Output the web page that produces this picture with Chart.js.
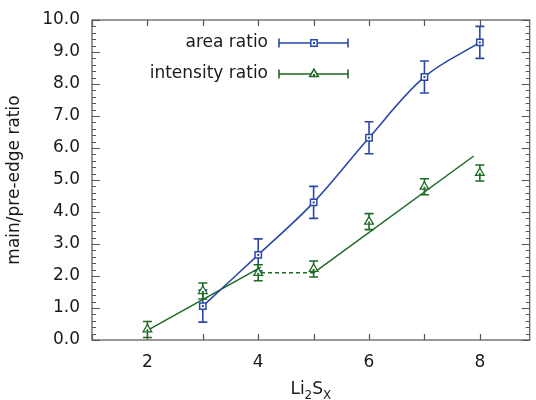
<!DOCTYPE html>
<html>
<head>
<meta charset="utf-8">
<script src="https://cdn.jsdelivr.net/npm/chart.js@4.4.0/dist/chart.umd.min.js"></script>
<style>
  html, body { margin: 0; padding: 0; background: #fff; }
  #wrap { width: 536px; height: 400px; }
</style>
</head>
<body>
<div id="wrap"><canvas id="chart"></canvas></div>
<script>
// values
const areaX = [3, 4, 5, 6, 7, 8];
const areaRatio = [1.06, 2.66, 4.3, 6.32, 8.22, 9.3];
const areaErr = [0.5, 0.5, 0.5, 0.5, 0.5, 0.5];

const intensityX = [2, 3, 4, 5, 6, 7, 8];
const intensityRatio = [0.33, 1.53, 2.1, 2.22, 3.7, 4.79, 5.22];
const intensityErr = [0.25, 0.25, 0.25, 0.25, 0.25, 0.25, 0.25];

// green guide lines (two linear fits and the dashed plateau)
const fitLowX = [2, 4.05];
const fitLowY = [0.3, 2.28];
const plateauX = [4.05, 5];
const plateauY = [2.1, 2.1];
const fitHighX = [5, 7.89];
const fitHighY = [2.1, 5.75];

const xTickLabels = [2, 4, 6, 8];
const xTickMarks = [1, 2, 3, 4, 5, 6, 7, 8];
const yTickLabels = [0, 1, 2, 3, 4, 5, 6, 7, 8, 9, 10];

const BLUE = '#2a48a8';
const GREEN = '#1d6a26';
const AXIS = '#555';
const TEXT = '#1a1a1a';
const FONT = "'DejaVu Sans', sans-serif";

const pts = (xs, ys) => xs.map((x, i) => ({ x: x, y: ys[i] }));

// error bars, drawn under the markers
const errorBars = {
  id: 'errorBars',
  beforeDatasetsDraw(chart) {
    const { ctx, scales: { x, y } } = chart;
    const sets = [
      [areaX, areaRatio, areaErr, BLUE],
      [intensityX, intensityRatio, intensityErr, GREEN]
    ];
    ctx.save();
    ctx.lineWidth = 1.6;
    sets.forEach(([xs, ys, es, col]) => {
      ctx.strokeStyle = col;
      xs.forEach((xv, i) => {
        const px = x.getPixelForValue(xv);
        const top = y.getPixelForValue(ys[i] + es[i]);
        const bot = y.getPixelForValue(ys[i] - es[i]);
        ctx.beginPath();
        ctx.moveTo(px, top); ctx.lineTo(px, bot);
        ctx.moveTo(px - 4.5, top); ctx.lineTo(px + 4.5, top);
        ctx.moveTo(px - 4.5, bot); ctx.lineTo(px + 4.5, bot);
        ctx.stroke();
      });
    });
    ctx.restore();
  }
};

// frame, inward ticks, centre dots, legend and axis titles
const decorations = {
  id: 'decorations',
  afterDraw(chart) {
    const { ctx, chartArea: a, scales: { x, y } } = chart;
    ctx.save();

    // centre dots on markers
    [[areaX, areaRatio, BLUE], [intensityX, intensityRatio, GREEN]].forEach(([xs, ys, col]) => {
      ctx.fillStyle = col;
      xs.forEach((xv, i) => {
        const px = x.getPixelForValue(xv);
        const py = y.getPixelForValue(ys[i]) + (col === GREEN ? 1 : 0);
        ctx.fillRect(px - 1, py - 1, 2, 2);
      });
    });

    ctx.strokeStyle = AXIS;
    ctx.lineWidth = 1.2;
    ctx.strokeRect(a.left, a.top, a.right - a.left, a.bottom - a.top);

    ctx.beginPath();
    for (let k = 0; k <= 50; k++) {
      const v = k * 0.2;
      const py = Math.round(y.getPixelForValue(v)) + 0.5;
      const len = k % 5 === 0 ? 8 : 4;
      ctx.moveTo(a.left, py); ctx.lineTo(a.left + len, py);
      ctx.moveTo(a.right, py); ctx.lineTo(a.right - len, py);
    }
    xTickMarks.forEach(v => {
      const px = Math.round(x.getPixelForValue(v)) + 0.5;
      ctx.moveTo(px, a.bottom); ctx.lineTo(px, a.bottom - 6);
      ctx.moveTo(px, a.top); ctx.lineTo(px, a.top + 6);
    });
    ctx.stroke();

    // legend
    ctx.font = '17px ' + FONT;
    ctx.fillStyle = TEXT;
    ctx.textAlign = 'right';
    ctx.textBaseline = 'middle';
    const legend = [['area ratio', BLUE, 'rect', 43], ['intensity ratio', GREEN, 'triangle', 74]];
    legend.forEach(([label, col, style, ly]) => {
      ctx.fillStyle = TEXT;
      ctx.fillText(label, 268, ly);
      ctx.strokeStyle = col;
      ctx.lineWidth = 1.6;
      ctx.beginPath();
      ctx.moveTo(279, ly); ctx.lineTo(348, ly);
      ctx.moveTo(279, ly - 4.5); ctx.lineTo(279, ly + 4.5);
      ctx.moveTo(348, ly - 4.5); ctx.lineTo(348, ly + 4.5);
      ctx.stroke();
      ctx.fillStyle = '#fff';
      ctx.lineWidth = 1.5;
      Chart.helpers.drawPoint(ctx, { pointStyle: style, radius: style === 'rect' ? 4.5 : 5, borderWidth: 1.5 }, 314, ly);
      ctx.fillStyle = col;
      ctx.fillRect(313, ly - (style === 'triangle' ? 0 : 1), 2, 2);
    });

    // axis titles
    ctx.fillStyle = TEXT;
    ctx.textAlign = 'left';
    ctx.textBaseline = 'alphabetic';
    const cx = (a.left + a.right) / 2;
    const parts = [['Li', 17, 0], ['2', 12, 5], ['S', 17, 0], ['X', 12, 5]];
    let w = 0;
    parts.forEach(([t, s]) => { ctx.font = s + 'px ' + FONT; w += ctx.measureText(t).width; });
    let tx = cx - w / 2;
    parts.forEach(([t, s, dy]) => {
      ctx.font = s + 'px ' + FONT;
      ctx.fillText(t, tx, 394 + dy);
      tx += ctx.measureText(t).width;
    });

    ctx.font = '17px ' + FONT;
    ctx.translate(15, (a.top + a.bottom) / 2);
    ctx.rotate(-Math.PI / 2);
    ctx.textAlign = 'center';
    ctx.textBaseline = 'middle';
    ctx.fillText('main/pre-edge ratio', 0, 0);
    ctx.restore();
  }
};

new Chart(document.getElementById('chart'), {
  type: 'scatter',
  data: {
    datasets: [
      {
        data: pts(areaX, areaRatio),
        showLine: true,
        tension: 0.35,
        borderColor: BLUE,
        borderWidth: 1.6,
        pointStyle: 'rect',
        pointRadius: 4.5,
        pointBorderWidth: 1.5,
        pointBackgroundColor: '#fff',
        pointBorderColor: BLUE,
        order: 1
      },
      {
        data: pts(intensityX, intensityRatio),
        showLine: false,
        pointStyle: 'triangle',
        pointRadius: 5,
        pointBorderWidth: 1.3,
        pointBackgroundColor: '#fff',
        pointBorderColor: GREEN,
        order: 0
      },
      {
        data: pts(fitLowX, fitLowY),
        showLine: true,
        borderColor: GREEN,
        borderWidth: 1.5,
        pointRadius: 0,
        order: 2
      },
      {
        data: pts(plateauX, plateauY),
        showLine: true,
        borderColor: GREEN,
        borderWidth: 1.5,
        borderDash: [4, 3],
        pointRadius: 0,
        order: 2
      },
      {
        data: pts(fitHighX, fitHighY),
        showLine: true,
        borderColor: GREEN,
        borderWidth: 1.5,
        pointRadius: 0,
        order: 2
      }
    ]
  },
  options: {
    responsive: true,
    maintainAspectRatio: false,
    animation: false,
    layout: { padding: { top: 20, right: 1, left: 0, bottom: 0 } },
    plugins: { legend: { display: false }, tooltip: { enabled: false } },
    scales: {
      x: {
        type: 'linear',
        min: 1,
        max: 8.9,
        afterBuildTicks: s => { s.ticks = xTickLabels.map(v => ({ value: v })); },
        afterFit: s => { s.height = 60; s.paddingLeft = 0; s.paddingRight = 0; },
        grid: { display: false, drawTicks: false },
        border: { display: false },
        ticks: { color: TEXT, font: { family: FONT, size: 17 }, padding: 12, maxRotation: 0 }
      },
      y: {
        min: 0,
        max: 10,
        afterBuildTicks: s => { s.ticks = yTickLabels.map(v => ({ value: v })); },
        afterFit: s => { s.width = 92; s.paddingTop = 0; s.paddingBottom = 0; },
        grid: { display: false, drawTicks: false },
        border: { display: false },
        ticks: { color: TEXT, font: { family: FONT, size: 17 }, padding: 12, callback: v => v.toFixed(1) }
      }
    }
  },
  plugins: [errorBars, decorations]
});
</script>
</body>
</html>
